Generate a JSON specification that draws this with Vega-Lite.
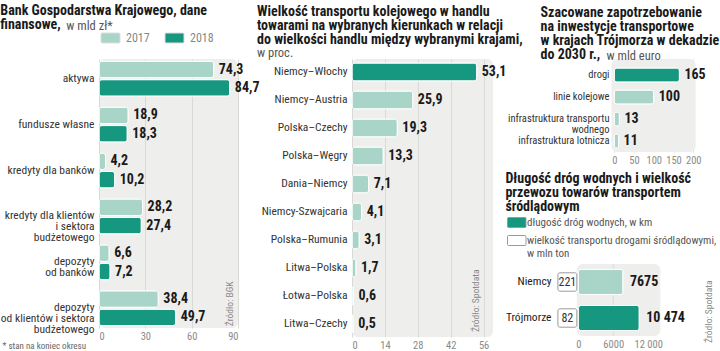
{
  "$schema": "https://vega.github.io/schema/vega-lite/v6.json",
  "background": "white",
  "padding": {"left": 0, "top": 3, "right": 0, "bottom": 0},
  "config": {
    "font": "Liberation Sans Narrow, Roboto Condensed, DejaVu Sans Condensed, sans-serif",
    "locale": {"number": {"decimal": ",", "thousands": "\u00a0", "grouping": [3], "currency": ["", ""]}},
    "view": {"fill": "#eeeeec", "stroke": null, "cornerRadius": 6},
    "axis": {"domain": false, "ticks": false, "grid": false, "labelFont": "Liberation Sans Narrow, Roboto Condensed, DejaVu Sans Condensed, sans-serif", "labelColor": "#8a8a8a", "labelFontSize": 10.5, "titleFont": "Liberation Sans Narrow, Roboto Condensed, DejaVu Sans Condensed, sans-serif"},
    "axisX": {"grid": true, "gridColor": "#d9d9d6", "labelPadding": 3, "labelOverlap": false},
    "axisY": {"labelColor": "#333333", "labelFontSize": 11.5, "labelPadding": 5, "labelLineHeight": 11, "labelLimit": 200},
    "title": {"anchor": "start", "frame": "bounds", "font": "Liberation Sans Narrow, Roboto Condensed, DejaVu Sans Condensed, sans-serif", "fontSize": 14, "fontWeight": "bold", "color": "#1a1a1a", "lineHeight": 14, "subtitleFont": "Liberation Sans Narrow, Roboto Condensed, DejaVu Sans Condensed, sans-serif", "subtitleFontSize": 12.5, "subtitleColor": "#555555", "subtitleFontWeight": "normal", "offset": 4},
    "legend": {"labelFont": "Liberation Sans Narrow, Roboto Condensed, DejaVu Sans Condensed, sans-serif", "titleFont": "Liberation Sans Narrow, Roboto Condensed, DejaVu Sans Condensed, sans-serif"},
    "bar": {"cornerRadius": 3, "stroke": "white", "strokeWidth": 1},
    "text": {"font": "Liberation Sans Narrow, Roboto Condensed, DejaVu Sans Condensed, sans-serif"}
  },
  "resolve": {"scale": {"fill": "independent"}, "legend": {"fill": "independent"}},
  "columns": 2,
  "align": "none",
  "spacing": -18,
  "concat": [
    {
      "columns": 2,
      "align": "none",
      "spacing": -3,
      "resolve": {"scale": {"fill": "independent"}, "legend": {"fill": "independent"}},
      "concat": [
        {
          "width": 139,
          "height": 269,
          "title": {"text": ["Bank Gospodarstwa Krajowego, dane", "finansowe,"], "subtitle": "\u200b\u00a0\u00a0\u00a0\u00a0\u00a0\u00a0\u00a0\u00a0\u00a0\u00a0\u00a0\u00a0\u00a0\u00a0\u00a0\u00a0\u00a0\u00a0\u00a0\u00a0\u00a0\u00a0\u00a0w mld zł*", "subtitlePadding": -12, "offset": 0},
          "data": {"values": [
            {"kat": "aktywa", "rok": "2017", "val": 74.3},
            {"kat": "aktywa", "rok": "2018", "val": 84.7},
            {"kat": "fundusze własne", "rok": "2017", "val": 18.9},
            {"kat": "fundusze własne", "rok": "2018", "val": 18.3},
            {"kat": "kredyty dla banków", "rok": "2017", "val": 4.2},
            {"kat": "kredyty dla banków", "rok": "2018", "val": 10.2},
            {"kat": "kredyty dla klientów|i sektora|budżetowego", "rok": "2017", "val": 28.2},
            {"kat": "kredyty dla klientów|i sektora|budżetowego", "rok": "2018", "val": 27.4},
            {"kat": "depozyty|od banków", "rok": "2017", "val": 6.6},
            {"kat": "depozyty|od banków", "rok": "2018", "val": 7.2},
            {"kat": "depozyty|od klientów i sektora|budżetowego", "rok": "2017", "val": 38.4},
            {"kat": "depozyty|od klientów i sektora|budżetowego", "rok": "2018", "val": 49.7}
          ]},
          "layer": [
            {
              "mark": {"type": "bar"},
              "encoding": {
                "y": {"field": "kat", "type": "nominal", "sort": null, "title": null, "scale": {"paddingInner": 0.24, "paddingOuter": 0.05}, "axis": {"labelExpr": "split(datum.label, '|')", "minExtent": 97}},
                "x": {"field": "val", "type": "quantitative", "title": "* stan na koniec okresu", "scale": {"domain": [0, 90]}, "axis": {"values": [0, 30, 60, 90], "titleAnchor": "start", "titleAlign": "left", "titleX": -97, "titleFontSize": 9, "titleFontWeight": "normal", "titleColor": "#666666", "titlePadding": 0}},
                "yOffset": {"field": "rok", "type": "nominal", "scale": {"paddingInner": 0.1, "paddingOuter": 0}},
                "fill": {"field": "rok", "type": "nominal", "scale": {"domain": ["2017", "2018"], "range": ["#a8d5c8", "#16977f"]}, "legend": {"orient": "top", "direction": "horizontal", "title": null, "symbolType": "M-0.6,-1H2.8A0.2,0.2 0 0 1 3,-0.8V0.8A0.2,0.2 0 0 1 2.8,1H-0.6A0.2,0.2 0 0 1 -0.8,0.8V-0.8A0.2,0.2 0 0 1 -0.6,-1Z", "symbolSize": 100, "symbolStrokeColor": "#dddddd", "symbolStrokeWidth": 1, "labelFontSize": 12, "labelColor": "#888888", "labelOffset": 15, "columnPadding": 13, "offset": 14, "padding": 0}}
              }
            },
            {
              "mark": {"type": "text", "align": "left", "dx": 5, "fontWeight": "bold", "fontSize": 14, "color": "#1a1a1a"},
              "encoding": {
                "y": {"field": "kat", "type": "nominal", "sort": null, "title": null},
                "x": {"field": "val", "type": "quantitative", "title": "* stan na koniec okresu", "axis": {"values": [0, 30, 60, 90], "titleAnchor": "start", "titleAlign": "left", "titleX": -97, "titleFontSize": 9, "titleFontWeight": "normal", "titleColor": "#666666", "titlePadding": 0}},
                "yOffset": {"field": "rok", "type": "nominal", "scale": {"paddingInner": 0.1, "paddingOuter": 0}},
                "text": {"field": "val", "type": "quantitative", "format": ".1f"}
              }
            },
            {
              "data": {"values": [{"zrodlo": "Źródło: BGK"}]},
              "mark": {"type": "text", "angle": 270, "align": "left", "baseline": "bottom", "dx": -18, "dy": -3, "fontSize": 9.5, "color": "#8a8a8a"},
              "encoding": {
                "x": {"datum": 90, "type": "quantitative", "axis": {"values": [0, 30, 60, 90], "titleAnchor": "start", "titleAlign": "left", "titleX": -97, "titleFontSize": 9, "titleFontWeight": "normal", "titleColor": "#666666", "titlePadding": 0}},
                "y": {"datum": "depozyty|od klientów i sektora|budżetowego", "type": "nominal"},
                "text": {"field": "zrodlo", "type": "nominal"}
              }
            }
          ]
        },
        {
          "width": 141,
          "height": 278,
          "title": {"text": ["Wielkość transportu kolejowego w handlu", "towarami na wybranych kierunkach w relacji", "do wielkości handlu między wybranymi krajami,"], "subtitle": "w proc.", "subtitlePadding": 0, "offset": 0},
          "data": {"values": [
            {"kier": "Niemcy–Włochy", "val": 53.1},
            {"kier": "Niemcy–Austria", "val": 25.9},
            {"kier": "Polska–Czechy", "val": 19.3},
            {"kier": "Polska–Węgry", "val": 13.3},
            {"kier": "Dania–Niemcy", "val": 7.1},
            {"kier": "Niemcy-Szwajcaria", "val": 4.1},
            {"kier": "Polska–Rumunia", "val": 3.1},
            {"kier": "Litwa–Polska", "val": 1.7},
            {"kier": "Łotwa–Polska", "val": 0.6},
            {"kier": "Litwa–Czechy", "val": 0.5}
          ]},
          "layer": [
            {
              "mark": {"type": "bar"},
              "encoding": {
                "y": {"field": "kier", "type": "nominal", "sort": null, "title": null, "scale": {"paddingInner": 0.36, "paddingOuter": 0.145}, "axis": {"minExtent": 95}},
                "x": {"field": "val", "type": "quantitative", "title": null, "scale": {"domain": [0, 56]}, "axis": {"values": [0, 14, 28, 42, 56], "labelOverlap": false}},
                "fill": {"condition": {"test": "datum.kier == 'Niemcy–Włochy'", "value": "#16977f"}, "value": "#a8d5c8"}
              }
            },
            {
              "mark": {"type": "text", "align": "left", "dx": 5, "fontWeight": "bold", "fontSize": 14, "color": "#1a1a1a"},
              "encoding": {
                "y": {"field": "kier", "type": "nominal", "sort": null, "title": null},
                "x": {"field": "val", "type": "quantitative", "title": null, "axis": {"values": [0, 14, 28, 42, 56], "labelOverlap": false}},
                "text": {"field": "val", "type": "quantitative", "format": ".1f"}
              }
            },
            {
              "data": {"values": [{"zrodlo": "Źródło: Spotdata"}]},
              "mark": {"type": "text", "angle": 270, "align": "left", "baseline": "bottom", "dx": -8, "dy": -3, "fontSize": 9.5, "color": "#8a8a8a"},
              "encoding": {
                "x": {"datum": 56, "type": "quantitative", "title": null, "axis": {"values": [0, 14, 28, 42, 56], "labelOverlap": false}},
                "y": {"datum": "Litwa–Czechy", "type": "nominal"},
                "text": {"field": "zrodlo", "type": "nominal"}
              }
            }
          ]
        }
      ]
    },
    {
      "columns": 1,
      "align": "none",
      "spacing": 6,
      "resolve": {"scale": {"fill": "independent"}, "legend": {"fill": "independent"}},
      "concat": [
        {
          "width": 158,
          "height": 93,
          "view": {"fill": null, "stroke": null},
          "title": {"text": ["Szacowane zapotrzebowanie", "na inwestycje transportowe", "w krajach Trójmorza w dekadzie", "do 2030 r.,"], "subtitle": "\u200b\u00a0\u00a0\u00a0\u00a0\u00a0\u00a0\u00a0\u00a0\u00a0\u00a0\u00a0\u00a0\u00a0\u00a0\u00a0\u00a0\u00a0\u00a0\u00a0\u00a0\u00a0\u00a0\u00a0w mld euro", "subtitlePadding": -12, "dx": 33, "offset": -3},
          "data": {"values": [
            {"rodzaj": "drogi", "val": 165},
            {"rodzaj": "linie kolejowe", "val": 100},
            {"rodzaj": "infrastruktura transportu|wodnego", "val": 13},
            {"rodzaj": "infrastruktura lotnicza", "val": 11}
          ]},
          "layer": [
            {
              "data": {"values": [{"tlo": 1}]},
              "mark": {"type": "rect", "fill": "#eeeeec", "cornerRadius": 6},
              "encoding": {"x": {"datum": -7, "type": "quantitative", "title": null, "axis": {"values": [0, 50, 100, 150, 200], "labelOverlap": false}}, "x2": {"datum": 206}}
            },
            {
              "mark": {"type": "bar"},
              "encoding": {
                "y": {"field": "rodzaj", "type": "nominal", "sort": null, "title": null, "scale": {"paddingInner": 0.36, "paddingOuter": 0.293, "align": 0.7}, "axis": {"labelExpr": "split(datum.label, '|')", "labelFontSize": 10.5, "labelLineHeight": 10.5, "offset": -59, "zindex": 1}},
                "x": {"field": "val", "type": "quantitative", "title": null, "scale": {"domain": [-140.7, 206]}, "axis": {"values": [0, 50, 100, 150, 200], "labelOverlap": false}},
                "fill": {"condition": {"test": "datum.rodzaj == 'drogi'", "value": "#16977f"}, "value": "#a8d5c8"}
              }
            },
            {
              "mark": {"type": "text", "align": "left", "dx": 5, "fontWeight": "bold", "fontSize": 14, "color": "#1a1a1a"},
              "encoding": {
                "y": {"field": "rodzaj", "type": "nominal", "sort": null, "title": null},
                "x": {"field": "val", "type": "quantitative", "title": null, "axis": {"values": [0, 50, 100, 150, 200], "labelOverlap": false}},
                "text": {"field": "val", "type": "quantitative"}
              }
            }
          ]
        },
        {
          "width": 163,
          "height": 72,
          "view": {"fill": null, "stroke": null},
          "title": {"text": ["Długość dróg wodnych i wielkość", "przewozu towarów transportem", "śródlądowym"], "offset": 3},
          "data": {"values": [
            {"kraj": "Niemcy", "km": 7675, "mln_t": 221, "etykieta": "7675"},
            {"kraj": "Trójmorze", "km": 10474, "mln_t": 82, "etykieta": "10 474"}
          ]},
          "layer": [
            {
              "data": {"values": [{"tlo": 1}]},
              "mark": {"type": "rect", "fill": "#eeeeec", "cornerRadius": 6},
              "encoding": {"x": {"datum": -250, "type": "quantitative", "title": null, "axis": {"values": [0, 6000, 12000], "grid": false, "labelOverlap": false, "labelExpr": "datum.value == 12000 ? '12 000' : format(datum.value, 'd')"}}, "x2": {"datum": 14100}}
            },
            {
              "data": {"values": [{"siatka": 1}]},
              "mark": {"type": "rule", "color": "#d9d9d6"},
              "encoding": {"x": {"datum": 6000, "type": "quantitative", "title": null, "axis": {"values": [0, 6000, 12000], "grid": false, "labelOverlap": false, "labelExpr": "datum.value == 12000 ? '12 000' : format(datum.value, 'd')"}}}
            },
            {
              "mark": {"type": "bar"},
              "encoding": {
                "y": {"field": "kraj", "type": "nominal", "sort": null, "title": null, "scale": {"paddingInner": 0.3, "paddingOuter": 0.15}, "axis": {"labelColor": "#1a1a1a", "labelFontSize": 11.5, "labelPadding": 4}},
                "x": {"field": "km", "type": "quantitative", "title": null, "scale": {"domain": [-3650, 22800]}, "axis": {"values": [0, 6000, 12000], "grid": false, "labelOverlap": false, "labelExpr": "datum.value == 12000 ? '12 000' : format(datum.value, 'd')"}},
                "fill": {"condition": {"test": "datum.kraj == 'Trójmorze'", "value": "#16977f"}, "value": "#a8d5c8"}
              }
            },
            {
              "mark": {"type": "bar", "stroke": "#9a9a9a", "strokeWidth": 1, "cornerRadius": 2, "height": {"band": 0.73}},
              "encoding": {
                "y": {"field": "kraj", "type": "nominal", "sort": null, "title": null},
                "x": {"datum": -3500, "type": "quantitative", "title": null, "axis": {"values": [0, 6000, 12000], "grid": false, "labelOverlap": false, "labelExpr": "datum.value == 12000 ? '12 000' : format(datum.value, 'd')"}},
                "x2": {"datum": -250},
                "fill": {"datum": "wielkość transportu drogami śródlądowymi,|w mln ton", "type": "nominal", "scale": {"domain": ["długość dróg wodnych, w km", "wielkość transportu drogami śródlądowymi,|w mln ton"], "range": ["#16977f", "#ffffff"]}, "legend": {"orient": "none", "legendX": -47, "legendY": -47, "direction": "vertical", "title": null, "symbolType": "M-1,-1H2.3A0.2,0.2 0 0 1 2.5,-0.8V0.8A0.2,0.2 0 0 1 2.3,1H-1A0.2,0.2 0 0 1 -1.2,0.8V-0.8A0.2,0.2 0 0 1 -1,-1Z", "symbolSize": 100, "symbolStrokeColor": "#9a9a9a", "symbolStrokeWidth": 1, "labelFontSize": 11, "labelColor": "#555555", "labelLimit": 260, "labelOffset": 8, "labelExpr": "split(datum.label, '|')", "rowPadding": 3, "padding": 0}}
              }
            },
            {
              "mark": {"type": "text", "align": "center", "fontSize": 12, "color": "#333333"},
              "encoding": {
                "y": {"field": "kraj", "type": "nominal", "sort": null, "title": null},
                "x": {"datum": -1875, "type": "quantitative", "title": null, "axis": {"values": [0, 6000, 12000], "grid": false, "labelOverlap": false, "labelExpr": "datum.value == 12000 ? '12 000' : format(datum.value, 'd')"}},
                "text": {"field": "mln_t", "type": "quantitative"}
              }
            },
            {
              "mark": {"type": "text", "align": "left", "dx": 7, "fontWeight": "bold", "fontSize": 14, "color": "#1a1a1a"},
              "encoding": {
                "y": {"field": "kraj", "type": "nominal", "sort": null, "title": null},
                "x": {"field": "km", "type": "quantitative", "title": null, "axis": {"values": [0, 6000, 12000], "grid": false, "labelOverlap": false, "labelExpr": "datum.value == 12000 ? '12 000' : format(datum.value, 'd')"}},
                "text": {"field": "etykieta", "type": "nominal"}
              }
            },
            {
              "data": {"values": [{"zrodlo": "Źródło: Spotdata"}]},
              "mark": {"type": "text", "angle": 270, "align": "left", "baseline": "bottom", "dx": -25, "dy": 3, "fontSize": 9.5, "color": "#8a8a8a"},
              "encoding": {
                "x": {"datum": 22800, "type": "quantitative", "title": null, "axis": {"values": [0, 6000, 12000], "grid": false, "labelOverlap": false, "labelExpr": "datum.value == 12000 ? '12 000' : format(datum.value, 'd')"}},
                "y": {"datum": "Trójmorze", "type": "nominal"},
                "text": {"field": "zrodlo", "type": "nominal"}
              }
            }
          ]
        }
      ]
    }
  ]
}
